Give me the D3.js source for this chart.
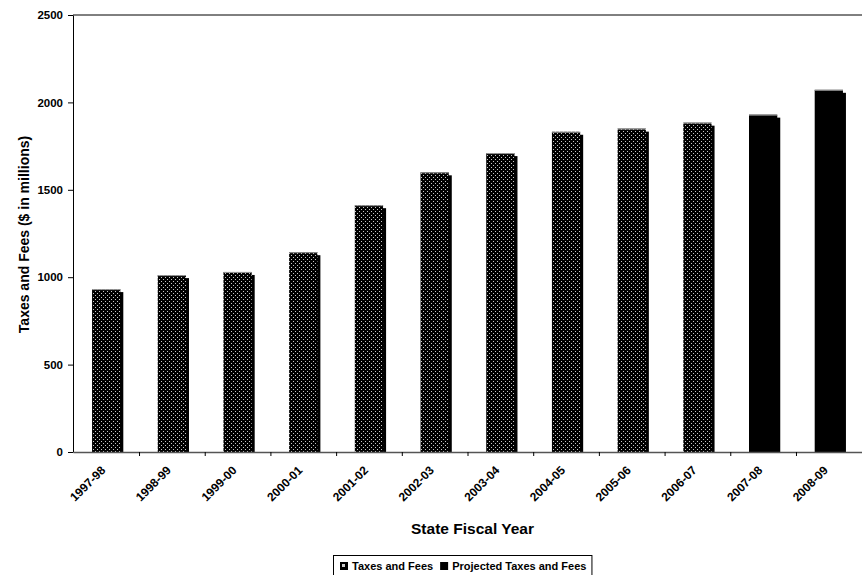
<!DOCTYPE html>
<html><head><meta charset="utf-8">
<script src="https://cdn.jsdelivr.net/npm/d3@7"></script>
<style>body{margin:0;background:#fff}svg{display:block}text{font-family:Arial,"Liberation Sans",sans-serif;font-weight:bold;fill:#000}</style>
</head><body>
<script>
const categories = ["1997-98","1998-99","1999-00","2000-01","2001-02","2002-03","2003-04","2004-05","2005-06","2006-07","2007-08","2008-09"];
const taxesAndFees = [932,1012,1030,1143,1412,1600,1710,1832,1850,1884,null,null];
const projectedTaxesAndFees = [null,null,null,null,null,null,null,null,null,null,1930,2072];
const yTicks = [0,500,1000,1500,2000,2500];
const seriesNames = ["Taxes and Fees","Projected Taxes and Fees"];

const W=862,H=575;
const m={l:73,r:0,t:15,b:122};
const FF="Arial,'Liberation Sans',sans-serif";
const svg=d3.select("body").append("svg").attr("width",W).attr("height",H);
const defs=svg.append("defs");
const pat=defs.append("pattern").attr("id","dots").attr("patternUnits","userSpaceOnUse").attr("width",4).attr("height",4);
pat.append("rect").attr("width",4).attr("height",4).attr("fill","#000");
pat.append("rect").attr("x",1).attr("y",1).attr("width",1).attr("height",1).attr("fill","#c8c8c8");
pat.append("rect").attr("x",3).attr("y",3).attr("width",1).attr("height",1).attr("fill","#c8c8c8");

const x=d3.scaleBand().domain(categories).range([m.l,W-m.r]).paddingInner(0.57).paddingOuter(0.29);
const y=d3.scaleLinear().domain([0,2500]).range([H-m.b-1,m.t]);

svg.append("line").attr("x1",m.l).attr("x2",W).attr("y1",y(2500)).attr("y2",y(2500)).attr("stroke","#000");

const data=categories.map((c,i)=>({c,v:taxesAndFees[i]!=null?taxesAndFees[i]:projectedTaxesAndFees[i],proj:taxesAndFees[i]==null}));
const g=svg.append("g");
g.selectAll("rect.sh").data(data).join("rect").attr("class","sh")
 .attr("x",d=>x(d.c)+3).attr("y",d=>y(d.v)+3).attr("width",x.bandwidth()).attr("height",d=>y(0)-y(d.v)-3).attr("fill","#000");
g.selectAll("rect.bar").data(data).join("rect").attr("class","bar")
 .attr("x",d=>x(d.c)).attr("y",d=>y(d.v)).attr("width",x.bandwidth()).attr("height",d=>y(0)-y(d.v))
 .attr("fill",d=>d.proj?"#000":"url(#dots)");
g.selectAll("line.topedge").data(data).join("line").attr("class","topedge")
 .attr("x1",d=>x(d.c)).attr("x2",d=>x(d.c)+x.bandwidth()).attr("y1",d=>y(d.v)+0.5).attr("y2",d=>y(d.v)+0.5).attr("stroke","#999");

const ya=svg.append("g").attr("transform",`translate(${m.l},0)`).call(d3.axisLeft(y).tickValues(yTicks).tickFormat(d3.format("d")).tickSize(5).tickSizeOuter(0).tickPadding(5));
ya.select(".domain").attr("stroke","#000");
ya.selectAll("text").style("font-size","11.5px").style("font-family",FF).style("font-weight","bold");

const xa=svg.append("g").attr("transform",`translate(0,${y(0)})`).call(d3.axisBottom(x).tickSize(0).tickSizeOuter(0));
xa.select(".domain").attr("stroke","#555").attr("stroke-width",1.5);
xa.selectAll("text").style("font-size","12px").style("font-family",FF).style("font-weight","bold")
  .attr("text-anchor","end").attr("dx","0").attr("dy","0.35em").attr("y",0).attr("transform","translate(-3,16) rotate(-45)");
const step=x.step();
svg.selectAll("line.xt").data(categories.slice(0,-1)).join("line").attr("class","xt")
 .attr("x1",(d)=>x(d)+x.bandwidth()+step*0.57/2+0.5).attr("x2",(d)=>x(d)+x.bandwidth()+step*0.57/2+0.5)
 .attr("y1",y(0)).attr("y2",y(0)+4).attr("stroke","#000");

svg.append("text").attr("x",(m.l+W)/2+5).attr("y",534).attr("text-anchor","middle").style("font-size","15.5px").text("State Fiscal Year");
svg.append("text").attr("transform",`translate(24,${(y(0)+y(2500))/2+1}) rotate(-90)`).attr("text-anchor","middle").attr("dy","0.35em").style("font-size","14px").text("Taxes and Fees ($ in millions)");

const lg=svg.append("g").attr("transform","translate(333,555)");
const box=lg.append("rect").attr("x",0.5).attr("y",0.5).attr("height",21).attr("fill","#fff").attr("stroke","#000");
let cx=7;
const items=[{n:seriesNames[0],f:"url(#dots)"},{n:seriesNames[1],f:"#000"}];
items.forEach(it=>{
  lg.append("rect").attr("x",cx).attr("y",7).attr("width",8).attr("height",8).attr("fill","#000");
  if(it.f!=="#000") lg.append("rect").attr("x",cx+2).attr("y",9).attr("width",3).attr("height",3).attr("fill","#ccc");
  const t=lg.append("text").attr("x",cx+12).attr("y",15).style("font-size","11px").text(it.n);
  cx+=12+t.node().getComputedTextLength()+7;
});
box.attr("width",cx-2);
</script>
</body></html>
